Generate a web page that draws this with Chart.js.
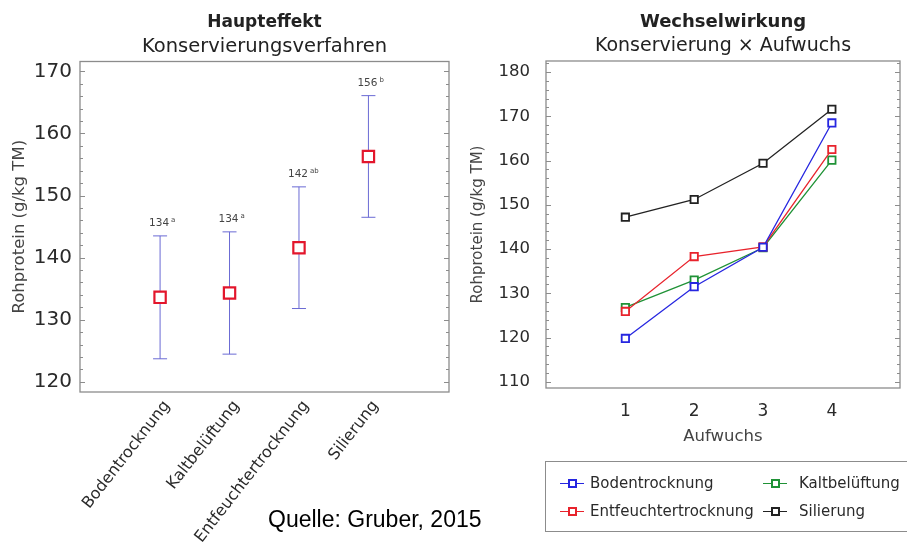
<!DOCTYPE html>
<html>
<head>
<meta charset="utf-8">
<script src="https://cdn.jsdelivr.net/npm/chart.js@4.4.1/dist/chart.umd.min.js"></script>
<style>
  html, body { margin: 0; padding: 0; background: #fff; }
  body { width: 907px; height: 548px; position: relative; overflow: hidden; font-family: "DejaVu Sans", sans-serif; }
  #left { position: absolute; left: 0; top: 0; }
  #right { position: absolute; left: 455px; top: 0; }
  #legend { position: absolute; left: 545px; top: 461px; width: 380px; height: 71px; border: 1.5px solid #8c8c8c; box-sizing: border-box; }
  .lg-text { position: absolute; font-size: 15px; line-height: 18px; color: #2a2a2a; white-space: nowrap; }
  .lg-mark { position: absolute; width: 24px; height: 0; border-top: 1.5px solid; }
  .lg-mark i { position: absolute; left: 8px; top: -5.5px; width: 5px; height: 5px; border: 2px solid; background: #fff; }
  #source { position: absolute; left: 268px; top: 508px; font: 23px "Liberation Sans", Arial, sans-serif; line-height: 23px; color: #000; white-space: nowrap; }
</style>
</head>
<body>
<canvas id="left" width="460" height="548"></canvas>
<canvas id="right" width="452" height="548"></canvas>
<div id="legend"></div>
<div id="source">Quelle: Gruber, 2015</div>
<script>
// Main effect: preservation method (mean ± interval)
const categories = ['Bodentrocknung', 'Kaltbelüftung', 'Entfeuchtertrocknung', 'Silierung'];
const meanByMethod = [133.6, 134.3, 141.6, 156.3];
const halfInterval = [9.9, 9.85, 9.8, 9.8];
const groupLetters = ['a', 'a', 'ab', 'b'];
const yTicksLeft = [120, 130, 140, 150, 160, 170];

// Interaction: method × growth cycle
const aufwuchs = [1, 2, 3, 4];
const bodentrocknung = [119.8, 131.5, 140.4, 168.5];
const kaltbelueftung = [126.8, 133.0, 140.3, 160.1];
const entfeuchtertrocknung = [125.9, 138.3, 140.5, 162.5];
const silierung = [147.2, 151.2, 159.4, 171.6];
const seriesNames = ['Bodentrocknung', 'Kaltbelüftung', 'Entfeuchtertrocknung', 'Silierung'];
const seriesColors = ['#2626e0', '#1f9236', '#e8232c', '#222222'];
const yTicksRight = [110, 120, 130, 140, 150, 160, 170, 180];

const FONT = '"DejaVu Sans", sans-serif';
Chart.defaults.font.family = FONT;
Chart.defaults.color = '#2a2a2a';

// Gray box around the plot area with short inward tick marks on both sides
function makeFrame(majorTicks) {
  return {
    id: 'frame',
    beforeDatasetsDraw(chart) {
      const { ctx, chartArea: a, scales } = chart;
      ctx.save();
      ctx.strokeStyle = '#8c8c8c';
      ctx.lineWidth = 1.3;
      ctx.strokeRect(a.left, a.top, a.right - a.left, a.bottom - a.top);
      ctx.lineWidth = 1;
      const y = scales.y;
      for (const t of y.ticks) {
        const py = Math.round(y.getPixelForValue(t.value)) + 0.5;
        const len = majorTicks.includes(Math.round(t.value)) ? 5 : 3;
        ctx.beginPath();
        ctx.moveTo(a.left, py); ctx.lineTo(a.left + len, py);
        ctx.moveTo(a.right, py); ctx.lineTo(a.right - len, py);
        ctx.stroke();
      }
      ctx.restore();
    }
  };
}

// Rounded mean with group letter above each interval
const valueLabels = {
  id: 'valueLabels',
  afterDatasetsDraw(chart) {
    const { ctx, scales: { x, y } } = chart;
    ctx.save();
    ctx.fillStyle = '#444';
    ctx.textBaseline = 'alphabetic';
    meanByMethod.forEach((m, i) => {
      const txt = String(Math.round(m));
      const px = x.getPixelForValue(i);
      const py = y.getPixelForValue(m + halfInterval[i]) - 10;
      ctx.font = '10.5px ' + FONT;
      const w = ctx.measureText(txt).width;
      ctx.textAlign = 'center';
      ctx.fillText(txt, px - 1, py);
      ctx.font = '7px ' + FONT;
      ctx.textAlign = 'left';
      ctx.fillText(groupLetters[i], px - 1 + w / 2 + 2, py - 4);
    });
    ctx.restore();
  }
};

function titleOpts(text, size, weight, padTop, padBottom) {
  return {
    display: true, text, fullSize: false, color: '#222',
    font: { family: FONT, size, weight, lineHeight: 1 },
    padding: { top: padTop, bottom: padBottom }
  };
}

// Interval segments: low, high, gap for every method
const intervalPoints = [];
meanByMethod.forEach((m, i) => {
  intervalPoints.push({ x: i, y: m - halfInterval[i] }, { x: i, y: m + halfInterval[i] }, { x: i, y: null });
});

new Chart(document.getElementById('left'), {
  type: 'line',
  data: {
    datasets: [
      {
        label: 'Mittelwert',
        data: meanByMethod.map((m, i) => ({ x: i, y: m })),
        showLine: false,
        pointStyle: 'rect', pointRadius: 8, pointBorderWidth: 2.2,
        pointBorderColor: '#e3162c', pointBackgroundColor: '#fff'
      },
      {
        label: 'Intervall',
        data: intervalPoints,
        borderColor: '#6a6ad4', borderWidth: 1, spanGaps: false,
        pointStyle: 'line', pointRadius: 7, pointBorderWidth: 1,
        pointBorderColor: '#6a6ad4'
      }
    ]
  },
  options: {
    responsive: false, animation: false, events: [],
    layout: { padding: { left: 0, right: 11, top: 0, bottom: 0 } },
    plugins: {
      legend: { display: false }, tooltip: { enabled: false },
      title: titleOpts('Haupteffekt', 17, 'bold', 14, 0),
      subtitle: titleOpts('Konservierungsverfahren', 19.5, 'normal', 6, 5)
    },
    scales: {
      x: {
        type: 'linear', min: -1.153, max: 4.16,
        afterBuildTicks: s => { s.ticks = categories.map((_, i) => ({ value: i })); },
        afterFit: s => { s.height = 156; },
        grid: { display: false }, border: { display: false },
        ticks: {
          autoSkip: false, minRotation: 52, maxRotation: 52, padding: -3, labelOffset: 7,
          color: '#2a2a2a', font: { size: 16 },
          callback: v => categories[Math.round(v)]
        }
      },
      y: {
        type: 'linear', min: 118.35, max: 171.6,
        afterFit: s => { s.width = 80; },
        grid: { display: false }, border: { display: false },
        ticks: {
          stepSize: 2, includeBounds: false, autoSkip: false, padding: 0,
          color: '#2a2a2a', font: { size: 20 },
          callback: v => yTicksLeft.includes(Math.round(v)) && Math.abs(v - Math.round(v)) < 1e-6 ? String(Math.round(v)) : ''
        },
        title: { display: true, text: 'Rohprotein (g/kg TM)', color: '#444', font: { size: 16.5 }, padding: { top: 10 } }
      }
    }
  },
  plugins: [makeFrame(yTicksLeft), valueLabels]
});

const seriesValues = [bodentrocknung, kaltbelueftung, entfeuchtertrocknung, silierung];
const drawOrder = [1, 3, 2, 0];

new Chart(document.getElementById('right'), {
  type: 'line',
  data: {
    datasets: seriesNames.map((name, k) => ({
      label: name,
      data: aufwuchs.map((a, j) => ({ x: a, y: seriesValues[k][j] })),
      order: drawOrder[k],
      borderColor: seriesColors[k], borderWidth: 1.3,
      pointStyle: 'rect', pointRadius: 5.2, pointBorderWidth: 1.8,
      pointBorderColor: seriesColors[k], pointBackgroundColor: '#fff'
    }))
  },
  options: {
    responsive: false, animation: false, events: [],
    layout: { padding: { left: 0, right: 4, top: 0, bottom: 0 } },
    plugins: {
      legend: { display: false }, tooltip: { enabled: false },
      title: titleOpts('Wechselwirkung', 18, 'bold', 13, 0),
      subtitle: titleOpts('Konservierung × Aufwuchs', 19, 'normal', 5.5, 5.5)
    },
    scales: {
      x: {
        type: 'linear', min: -0.153, max: 4.99,
        afterBuildTicks: s => { s.ticks = aufwuchs.map(v => ({ value: v })); },
        afterFit: s => { s.height = 160; },
        grid: { display: false }, border: { display: false },
        ticks: { autoSkip: false, maxRotation: 0, padding: 5, color: '#2a2a2a', font: { size: 17 } },
        title: { display: true, text: 'Aufwuchs', color: '#444', font: { size: 16.5 }, padding: { bottom: 101 } }
      },
      y: {
        type: 'linear', min: 108.6, max: 182.5,
        afterFit: s => { s.width = 91; },
        grid: { display: false }, border: { display: false },
        ticks: {
          stepSize: 2, includeBounds: false, autoSkip: false, padding: 8,
          color: '#2a2a2a', font: { size: 16.5 },
          callback: v => yTicksRight.includes(Math.round(v)) && Math.abs(v - Math.round(v)) < 1e-6 ? String(Math.round(v)) : ''
        },
        title: { display: true, text: 'Rohprotein (g/kg TM)', color: '#444', font: { size: 15 }, padding: { top: 14 } }
      }
    }
  },
  plugins: [makeFrame(yTicksRight)]
});

// Legend: two columns, two rows
const legend = document.getElementById('legend');
const colMark = [14, 217], colText = [44, 253], rowTop = [12, 40];
seriesNames.forEach((name, k) => {
  const c = k % 2, r = Math.floor(k / 2);
  const mark = document.createElement('div');
  mark.className = 'lg-mark';
  mark.style.left = colMark[c] + 'px';
  mark.style.top = (rowTop[r] + 9) + 'px';
  mark.style.borderTopColor = seriesColors[k];
  const sq = document.createElement('i');
  sq.style.borderColor = seriesColors[k];
  mark.appendChild(sq);
  legend.appendChild(mark);
  const t = document.createElement('div');
  t.className = 'lg-text';
  t.style.left = colText[c] + 'px';
  t.style.top = rowTop[r] + 'px';
  t.textContent = name;
  legend.appendChild(t);
});
</script>
</body>
</html>
